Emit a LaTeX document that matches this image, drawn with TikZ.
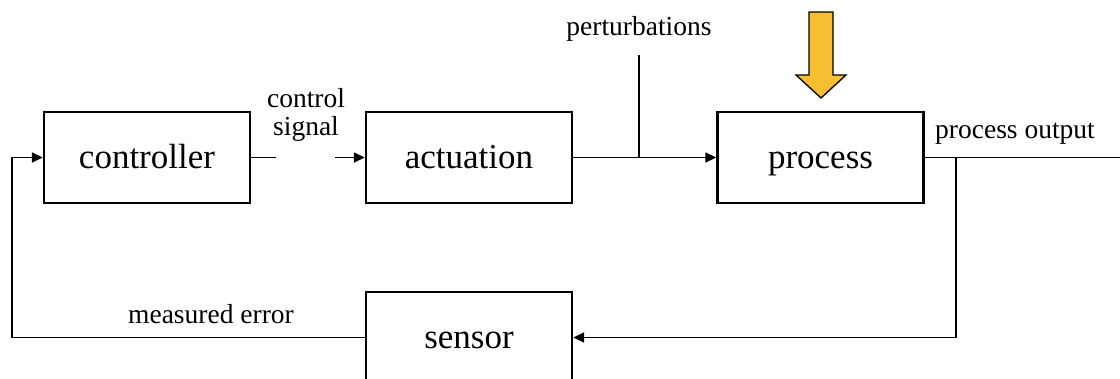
\documentclass[tikz,border=0pt]{standalone}
\usepackage{fontspec}
\setmainfont{Liberation Serif}
\usetikzlibrary{arrows.meta}
\definecolor{warnyellow}{RGB}{246,190,50}
\tikzset{
  block/.style={draw, line width=2.4pt, minimum width=206pt, minimum height=91pt,
    inner sep=0pt, text height=24pt, text depth=2pt,
    font=\fontsize{35}{37}\selectfont},
  wire/.style={line width=1.7pt},
  flow/.style={wire, -{Triangle[length=11pt,width=10pt]}},
  tag/.style={font=\fontsize{27.5}{30}\selectfont, inner sep=0pt, align=center},
  bigarrow/.style={fill=warnyellow, draw=black, line width=1.3pt, line join=miter}
}
\begin{document}
\begin{tikzpicture}[x=1pt,y=-1pt]
\useasboundingbox (0,0) rectangle (1120,378);

% blocks of the loop
\node[block] (ctrl) at (147,157.5) {controller};
\node[block] (act)  at (469,157.5) {actuation};
\node[block] (proc) at (820.5,157.5) {process};
\node[block] (sens) at (469,337.5) {sensor};

% signal labels
\node[tag] (csig) at (306,115) {control\\[-2pt]signal};
\node[tag] (pert) at (639,29) {perturbations};
\node[tag] (pout) at (1015,134) {process output};
\node[tag] (merr) at (211,314) {measured error};

% helper points of the wiring
\coordinate (cs1) at (276,157.5);
\coordinate (cs2) at (335,157.5);
\coordinate (ptop) at (639,55);
\coordinate (outend) at (1120,157.5);
\coordinate (tap) at (956,157.5);
\coordinate (fbx) at (12,0);

% forward path
\draw[wire] (ctrl.east) -- (cs1);
\draw[flow] (cs2) -- (act.west);
\draw[flow] (act.east) -- (proc.west);
\draw[wire] (ptop) -- (ptop |- proc.west);
\draw[wire] (proc.east) -- (outend);

% feedback path
\draw[flow] (tap) |- (sens.east);
\draw[flow] (sens.west) -- (fbx |- sens.west) |- (ctrl.west);

% disturbance arrow above the process
\draw[bigarrow] (809,12) -- (833,12) -- (833,75) -- (846,75) -- (821,98)
  -- (796,75) -- (809,75) -- cycle;
\end{tikzpicture}
\end{document}
